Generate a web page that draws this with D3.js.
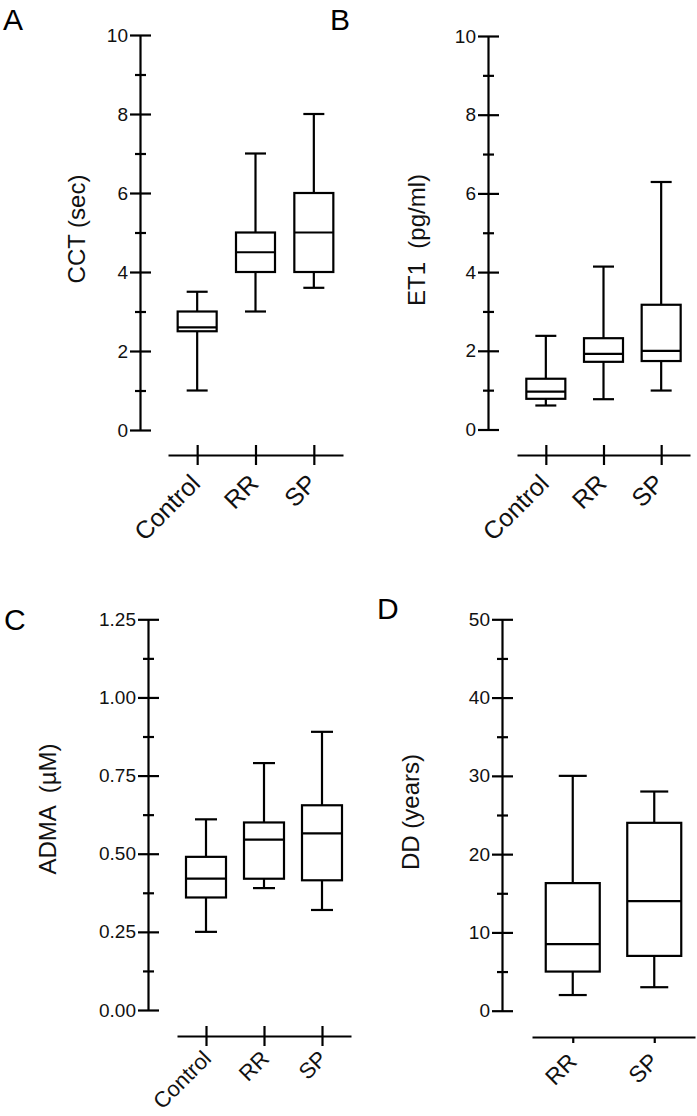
<!DOCTYPE html>
<html>
<head>
<meta charset="utf-8">
<script src="https://cdn.jsdelivr.net/npm/d3@7"></script>
<style>
  html, body { margin: 0; padding: 0; background: #fff; }
  svg { display: block; }
</style>
</head>
<body>
<svg id="chart" width="697" height="1116"></svg>
<script>
// ---------------- DATA ----------------
const categoriesABC = ["Control", "RR", "SP"];
const categoriesD = ["RR", "SP"];

// Panel A: CCT (sec)
const cctMin = [1.0, 3.0, 3.6];
const cctQ1  = [2.5, 4.0, 4.0];
const cctMed = [2.6, 4.5, 5.0];
const cctQ3  = [3.0, 5.0, 6.0];
const cctMax = [3.5, 7.0, 8.0];

// Panel B: ET1 (pg/ml)
const et1Min = [0.61, 0.77, 0.99];
const et1Q1  = [0.78, 1.72, 1.74];
const et1Med = [0.96, 1.92, 2.00];
const et1Q3  = [1.29, 2.32, 3.17];
const et1Max = [2.38, 4.14, 6.29];

// Panel C: ADMA (µM)
const admaMin = [0.25, 0.39, 0.32];
const admaQ1  = [0.36, 0.42, 0.415];
const admaMed = [0.42, 0.545, 0.565];
const admaQ3  = [0.49, 0.60, 0.655];
const admaMax = [0.61, 0.79, 0.89];

// Panel D: DD (years)
const ddMin = [2, 3];
const ddQ1  = [5, 7];
const ddMed = [8.5, 14];
const ddQ3  = [16.3, 24];
const ddMax = [30, 28];

// Tick values
const ticksA = [0, 2, 4, 6, 8, 10];
const minorA = [1, 3, 5, 7, 9];
const ticksC = [0, 0.25, 0.5, 0.75, 1.0, 1.25];
const minorC = [0.125, 0.375, 0.625, 0.875, 1.125];
const ticksD = [0, 10, 20, 30, 40, 50];
const minorD = [5, 15, 25, 35, 45];

// ---------------- DRAW ----------------
const svg = d3.select("#chart");
const INK = "#000";
const tickFont = "'Liberation Sans', Arial, Helvetica, sans-serif";
const SW = 2.2;

function makeRows(cats, mn, q1, md, q3, mx) {
  return cats.map((c, i) => ({cat: c, min: mn[i], q1: q1[i], med: md[i], q3: q3[i], max: mx[i]}));
}

function panel(cfg) {
  const g = svg.append("g");
  const y = d3.scaleLinear().domain(cfg.domain).range(cfg.yRange);
  const x = d3.scalePoint().domain(cfg.cats).range(cfg.xRange).padding(0.5);

  // y axis (major)
  const yAx = g.append("g").attr("transform", `translate(${cfg.yAxisX},0)`)
    .call(d3.axisLeft(y).tickValues(cfg.ticks).tickFormat(cfg.fmt)
      .tickSize(10).tickSizeOuter(0).tickPadding(2));
  yAx.select(".domain").attr("stroke", INK).attr("stroke-width", SW);
  yAx.selectAll(".tick line").attr("stroke", INK).attr("stroke-width", SW)
    .attr("x1", -10).attr("x2", 11);
  yAx.selectAll(".tick text").attr("fill", "#111")
    .style("font-family", tickFont).style("font-size", cfg.tickSize + "px");

  // y axis (minor)
  const yMin = g.append("g").attr("transform", `translate(${cfg.yAxisX},0)`)
    .call(d3.axisLeft(y).tickValues(cfg.minor).tickFormat("").tickSize(5).tickSizeOuter(0));
  yMin.select(".domain").remove();
  yMin.selectAll(".tick line").attr("stroke", INK).attr("stroke-width", SW)
    .attr("x1", -5).attr("x2", 6);

  // x axis
  const xAx = g.append("g").attr("transform", `translate(0,${cfg.xAxisY})`)
    .call(d3.axisBottom(x).tickSize(cfg.cross ? 10 : 6).tickSizeOuter(0).tickPadding(0));
  xAx.select(".domain").attr("stroke", INK).attr("stroke-width", SW);
  xAx.selectAll(".tick line").attr("stroke", INK).attr("stroke-width", SW)
    .attr("y1", cfg.cross ? -10 : 0);
  xAx.selectAll(".tick text")
    .attr("y", 0).attr("dy", 0)
    .attr("text-anchor", "end")
    .attr("transform", `translate(${cfg.lblDx},${cfg.lblDy}) rotate(-45)`)
    .attr("fill", "#111")
    .style("font-family", tickFont).style("font-size", cfg.catSize + "px");

  // boxes
  const rows = cfg.rows;
  const bw = cfg.boxW, cw = cfg.capW;
  const box = g.selectAll(".box").data(rows).enter().append("g").attr("class", "box");
  box.append("line")
    .attr("x1", d => x(d.cat)).attr("x2", d => x(d.cat))
    .attr("y1", d => y(d.max)).attr("y2", d => y(d.q3))
    .attr("stroke", INK).attr("stroke-width", SW);
  box.append("line")
    .attr("x1", d => x(d.cat)).attr("x2", d => x(d.cat))
    .attr("y1", d => y(d.q1)).attr("y2", d => y(d.min))
    .attr("stroke", INK).attr("stroke-width", SW);
  box.append("line")
    .attr("x1", d => x(d.cat) - cw / 2).attr("x2", d => x(d.cat) + cw / 2)
    .attr("y1", d => y(d.max)).attr("y2", d => y(d.max))
    .attr("stroke", INK).attr("stroke-width", SW);
  box.append("line")
    .attr("x1", d => x(d.cat) - cw / 2).attr("x2", d => x(d.cat) + cw / 2)
    .attr("y1", d => y(d.min)).attr("y2", d => y(d.min))
    .attr("stroke", INK).attr("stroke-width", SW);
  box.append("rect")
    .attr("x", d => x(d.cat) - bw / 2).attr("width", bw)
    .attr("y", d => y(d.q3)).attr("height", d => y(d.q1) - y(d.q3))
    .attr("fill", "#fff").attr("stroke", INK).attr("stroke-width", SW);
  box.append("line")
    .attr("x1", d => x(d.cat) - bw / 2).attr("x2", d => x(d.cat) + bw / 2)
    .attr("y1", d => y(d.med)).attr("y2", d => y(d.med))
    .attr("stroke", INK).attr("stroke-width", SW);

  // y title
  g.append("text")
    .attr("transform", `translate(${cfg.titleX},${cfg.titleY}) rotate(-90)`)
    .attr("text-anchor", "middle").attr("dy", "0.35em")
    .style("white-space", "pre")
    .style("font-family", tickFont).style("font-size", cfg.titleSize + "px")
    .attr("fill", "#111")
    .text(cfg.title);

  // panel letter
  g.append("text")
    .attr("x", cfg.letterX).attr("y", cfg.letterY)
    .style("font-family", tickFont).style("font-size", "30px")
    .attr("fill", "#000")
    .text(cfg.letter);
}

const fmtInt = d3.format("d");
const fmt2 = d3.format(".2f");

panel({
  letter: "A", letterX: 3, letterY: 30,
  title: "CCT (sec)", titleX: 77, titleY: 229, titleSize: 24,
  cats: categoriesABC, rows: makeRows(categoriesABC, cctMin, cctQ1, cctMed, cctQ3, cctMax),
  domain: [0, 10], ticks: ticksA, minor: minorA, fmt: fmtInt,
  yAxisX: 140, yRange: [430, 35], xAxisY: 455, xRange: [168, 343],
  boxW: 39, capW: 21, cross: true, lblDx: 4, lblDy: 30, tickSize: 19, catSize: 25
});

panel({
  letter: "B", letterX: 330, letterY: 30,
  title: "ET1  (pg/ml)", titleX: 417, titleY: 240, titleSize: 24,
  cats: categoriesABC, rows: makeRows(categoriesABC, et1Min, et1Q1, et1Med, et1Q3, et1Max),
  domain: [0, 10], ticks: ticksA, minor: minorA, fmt: fmtInt,
  yAxisX: 488, yRange: [429.5, 36], xAxisY: 455, xRange: [517, 690],
  boxW: 39, capW: 21, cross: true, lblDx: 4, lblDy: 30, tickSize: 19, catSize: 25
});

panel({
  letter: "C", letterX: 4, letterY: 630,
  title: "ADMA  (µM)", titleX: 48, titleY: 809, titleSize: 24,
  cats: categoriesABC, rows: makeRows(categoriesABC, admaMin, admaQ1, admaMed, admaQ3, admaMax),
  domain: [0, 1.25], ticks: ticksC, minor: minorC, fmt: fmt2,
  yAxisX: 148, yRange: [1010, 619.3], xAxisY: 1036, xRange: [177, 351],
  boxW: 40, capW: 22, cross: true, lblDx: 6, lblDy: 24, tickSize: 19, catSize: 22
});

panel({
  letter: "D", letterX: 377, letterY: 619,
  title: "DD (years)", titleX: 411, titleY: 812, titleSize: 24,
  cats: categoriesD, rows: makeRows(categoriesD, ddMin, ddQ1, ddMed, ddQ3, ddMax),
  domain: [0, 50], ticks: ticksD, minor: minorD, fmt: fmtInt,
  yAxisX: 502, yRange: [1010.7, 619.3], xAxisY: 1037, xRange: [532, 695],
  boxW: 54, capW: 28, cross: false, lblDx: 5, lblDy: 26, tickSize: 19, catSize: 23
});
</script>
</body>
</html>
